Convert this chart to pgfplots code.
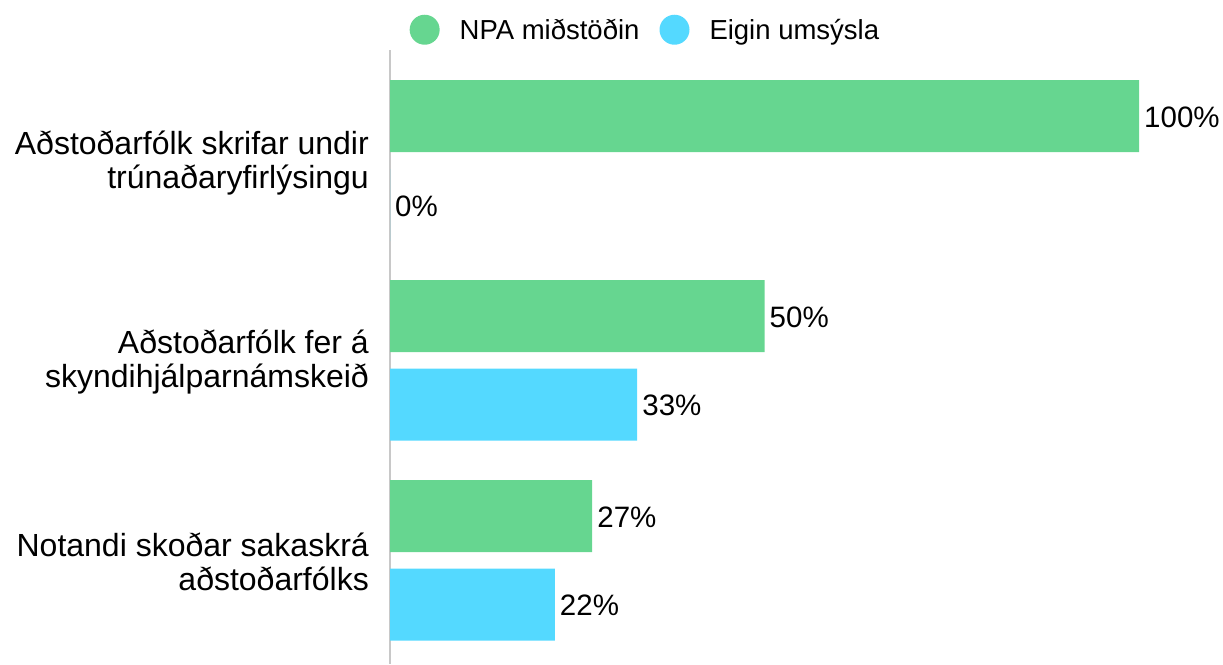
\documentclass[border=0pt]{standalone}
\usepackage{pgfplots}
\pgfplotsset{compat=1.18}
\usepackage{fontspec}
\setmainfont{Liberation Sans}
\definecolor{cgreen}{RGB}{102,214,144}
\definecolor{cblue}{RGB}{84,217,255}
\definecolor{caxis}{RGB}{200,200,200}
\begin{document}
\begin{tikzpicture}
\useasboundingbox (0,0) rectangle (1223pt,664pt);
\begin{axis}[
  at={(390pt,0pt)}, anchor=south west,
  scale only axis, width=749pt, height=614pt,
  xmin=0, xmax=100, ymin=50, ymax=664, y dir=reverse,
  axis x line=none, axis y line*=left,
  y axis line style={caxis, line width=1.2pt},
  xbar, bar width=72pt, bar shift=0pt,
  ytick={161,360,560}, major tick length=0pt,
  yticklabels={{Aðstoðarfólk skrifar undir\\trúnaðaryfirlýsingu},{Aðstoðarfólk fer á\\skyndihjálparnámskeið},{Notandi skoðar sakaskrá\\aðstoðarfólks}},
  yticklabel style={align=right, font=\fontsize{32}{34}\selectfont, inner sep=0pt, xshift=-21pt, yshift=-2pt},
  nodes near coords={\pgfmathprintnumber{\pgfplotspointmeta}\%},
  /pgf/number format/assume math mode=true,
  every node near coord/.append style={font=\fontsize{29.5}{32}\selectfont, anchor=west, inner sep=0pt, xshift=5pt, yshift=-1pt, text=black},
  point meta=x,
  legend columns=2,
  legend style={draw=none, fill=none, at={(0.341,1.033)}, anchor=center, font=\fontsize{27.5}{30}\selectfont, /tikz/every even column/.append style={column sep=18pt}},
  legend image code/.code={\fill[#1] (0pt,0pt) circle (15pt); \path (33pt,0pt);},
  clip=false,
]
\addplot[fill=cgreen, draw=none] coordinates {(100,116) (50,316) (27,516)};
\addlegendentry{NPA miðstöðin}
\addplot[fill=cblue, draw=none] coordinates {(0,205) (33,404.5) (22,604.5)};
\addlegendentry{Eigin umsýsla}
\end{axis}
\end{tikzpicture}
\end{document}
